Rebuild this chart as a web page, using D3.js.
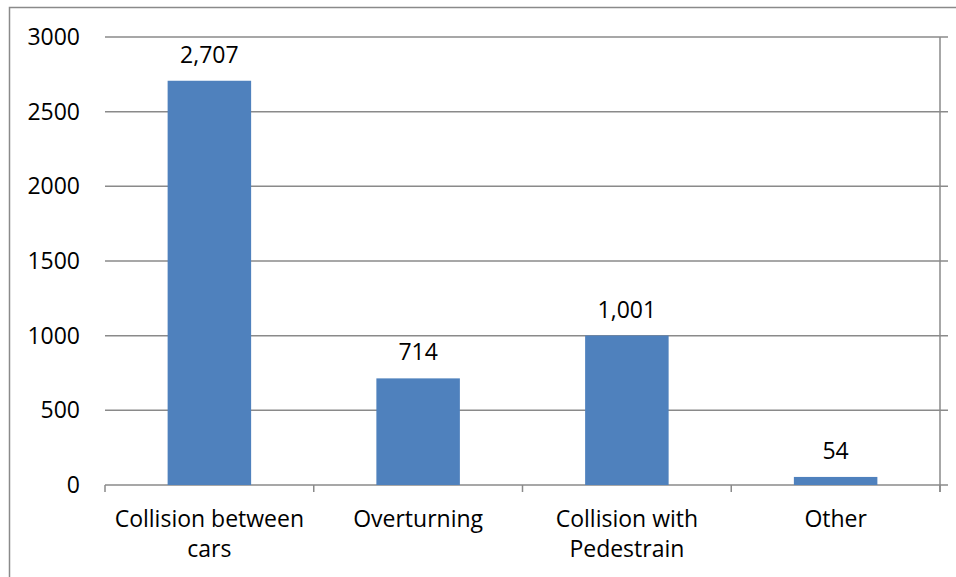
<!DOCTYPE html>
<html>
<head>
<meta charset="utf-8">
<script src="https://cdn.jsdelivr.net/npm/d3@7"></script>
<style>
  body { margin: 0; background: #fff; }
  text { font-family: "Open Sans", sans-serif; fill: #000; }
</style>
</head>
<body>
<div class="chart"></div>
<script>
// DATA ------------------------------**
const categories = ['Collision between cars', 'Overturning', 'Collision with Pedestrain', 'Other'];
const values = [2707, 714, 1001, 54];
const yTicks = [0, 500, 1000, 1500, 2000, 2500, 3000];

// CHART INIT ------------------------------**
const W = 956, H = 577;
const margin = {top: 37, right: 16, bottom: 92, left: 105};
const width = W - margin.left - margin.right;
const height = H - margin.top - margin.bottom;
const fontSize = 23;

const root = d3.select('.chart').append('svg')
    .attr('width', W)
    .attr('height', H);

// outer chart border (runs off the right and bottom of the picture)
root.append('rect')
    .attr('x', 9.5)
    .attr('y', 7.5)
    .attr('width', W + 20)
    .attr('height', H + 20)
    .attr('fill', 'none')
    .attr('stroke', '#8a8a8a')
    .attr('stroke-width', 1.5);

const svg = root.append('g')
    .attr('transform', 'translate(' + margin.left + ',' + margin.top + ')');

let xScale = d3.scaleBand()
    .domain(categories)
    .range([0, width])
    .paddingInner(0.6)
    .paddingOuter(0.3);

let yScale = d3.scaleLinear()
    .domain([0, 3000])
    .range([height, 0]);

// gridlines, pushed a little past the right edge like the reference
svg.append('g')
    .attr('class', 'grid')
    .selectAll('line')
    .data(yTicks)
    .join('line')
    .attr('x1', 0)
    .attr('x2', width + 8)
    .attr('y1', d => yScale(d))
    .attr('y2', d => yScale(d))
    .attr('stroke', '#8a8a8a')
    .attr('stroke-width', 1.5);

// right edge line
svg.append('line')
    .attr('x1', width)
    .attr('x2', width)
    .attr('y1', 0)
    .attr('y2', height + 7)
    .attr('stroke', '#8a8a8a')
    .attr('stroke-width', 1.5);

// y axis labels
let yAxis = d3.axisLeft(yScale)
    .tickValues(yTicks)
    .tickSize(0)
    .tickPadding(25)
    .tickFormat(d3.format('d'));

let yAxisGroup = svg.append('g')
    .attr('class', 'axis y-axis')
    .call(yAxis);
yAxisGroup.select('.domain').remove();
yAxisGroup.selectAll('text')
    .style('font-size', fontSize + 'px')
    .style('font-family', '"Open Sans", sans-serif')
    .attr('fill', '#000');

// x axis: tick marks sit on the band boundaries
const boundaries = d3.range(categories.length + 1).map(i => i * width / categories.length);

let xAxisGroup = svg.append('g')
    .attr('class', 'axis x-axis')
    .attr('transform', 'translate(0,' + height + ')');

xAxisGroup.selectAll('line.tick')
    .data(boundaries)
    .join('line')
    .attr('class', 'tick')
    .attr('x1', d => d)
    .attr('x2', d => d)
    .attr('y1', 0)
    .attr('y2', 7)
    .attr('stroke', '#8a8a8a')
    .attr('stroke-width', 1.5);

// bars
svg.selectAll('.bar')
    .data(categories)
    .join('rect')
    .attr('class', 'bar')
    .attr('x', d => xScale(d))
    .attr('y', (d, i) => yScale(values[i]))
    .attr('width', xScale.bandwidth())
    .attr('height', (d, i) => height - yScale(values[i]))
    .attr('fill', '#4f81bd');

// value labels
svg.selectAll('.value')
    .data(categories)
    .join('text')
    .attr('class', 'value')
    .attr('x', d => xScale(d) + xScale.bandwidth() / 2)
    .attr('y', (d, i) => yScale(values[i]) - 18)
    .attr('text-anchor', 'middle')
    .style('font-size', fontSize + 'px')
    .text((d, i) => d3.format(',')(values[i]));

// category labels, wrapped to the band width
const labels = xAxisGroup.selectAll('text.cat')
    .data(categories)
    .join('text')
    .attr('class', 'cat')
    .attr('text-anchor', 'middle')
    .style('font-size', fontSize + 'px')
    .attr('transform', d => 'translate(' + (xScale(d) + xScale.bandwidth() / 2) + ',42)');

labels.each(function(d) {
    const t = d3.select(this);
    const words = d.split(' ');
    let line = [];
    let lineNo = 0;
    let tspan = t.append('tspan').attr('x', 0).attr('y', 0);
    words.forEach(w => {
        line.push(w);
        tspan.text(line.join(' '));
        if (tspan.node().getComputedTextLength() > width / categories.length - 4 && line.length > 1) {
            line.pop();
            tspan.text(line.join(' '));
            line = [w];
            lineNo++;
            tspan = t.append('tspan').attr('x', 0).attr('y', lineNo * 30).text(w);
        }
    });
});
</script>
</body>
</html>
